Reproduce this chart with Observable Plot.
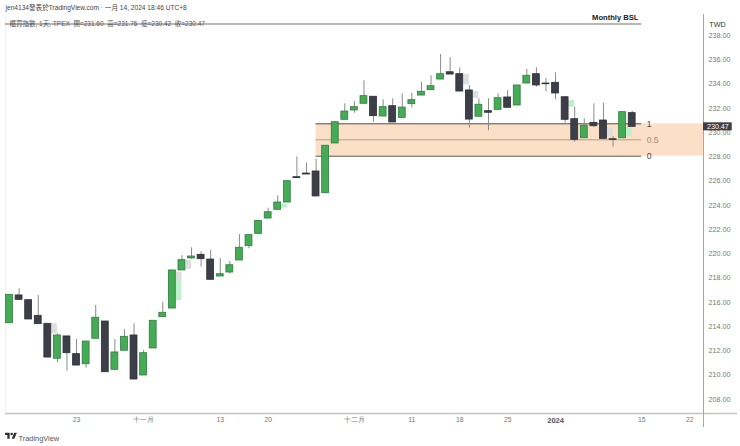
<!DOCTYPE html>
<html><head><meta charset="utf-8">
<script src="https://cdn.jsdelivr.net/npm/d3@7"></script>
<script src="https://cdn.jsdelivr.net/npm/@observablehq/plot@0.6"></script>
<style>
html,body{margin:0;padding:0;background:#fff;overflow:hidden}
#wrap{position:relative;width:740px;height:446px}
#logo{position:absolute;left:5px;top:431px;width:12px;height:10px}
</style></head><body><div id="wrap"></div>
<script>
const opens=[214.28,216.57,216.18,214.89,214.23,211.35,213.19,211.73,210.90,213.00,214.42,210.44,212.01,213.27,209.97,212.20,214.78,215.49,218.63,219.62,219.92,219.53,218.13,218.46,219.45,220.63,221.65,222.91,223.63,224.23,226.32,226.62,226.79,225.00,229.10,231.05,231.82,232.37,232.95,231.32,232.17,231.21,232.34,233.05,233.49,234.37,234.97,234.81,233.47,231.30,231.76,231.87,232.89,232.23,234.04,234.81,234.04,234.10,232.91,231.10,229.53,230.80,230.99,229.45,229.53,231.60];
const highs=[216.62,217.12,216.18,216.57,214.23,213.41,213.19,212.94,212.77,215.74,214.42,212.94,213.76,214.23,212.03,214.48,216.01,218.63,219.84,220.50,220.17,220.30,219.62,219.37,221.59,221.54,222.72,223.76,224.78,225.99,228.00,227.47,227.80,228.91,230.85,232.37,232.56,234.27,232.95,232.70,232.78,233.19,233.24,234.15,234.68,236.43,236.19,235.34,233.88,232.78,232.78,233.19,233.47,233.88,235.20,235.34,234.45,234.92,232.91,232.09,231.13,232.37,232.42,229.67,231.68,231.76];
const lows=[214.28,216.15,214.59,214.20,211.45,211.02,210.32,210.79,210.57,213.00,210.24,210.44,212.01,209.64,209.97,212.20,214.78,215.49,218.63,219.53,218.90,217.86,218.13,218.32,219.45,220.42,221.65,222.91,223.63,224.23,226.24,226.54,224.73,225.00,229.10,231.05,231.59,232.37,230.85,231.32,230.83,231.21,232.04,233.05,233.49,234.37,234.78,233.38,230.36,231.30,230.14,231.87,232.04,232.23,234.04,233.74,233.36,232.70,230.77,229.20,229.53,230.42,229.48,228.79,229.53,230.42];
const closes=[216.62,216.21,214.59,214.20,211.45,213.27,211.81,210.79,212.77,214.73,210.24,211.87,213.16,209.64,211.81,214.48,215.14,218.63,219.48,219.78,219.56,217.86,218.32,219.06,220.50,221.54,222.72,223.43,224.23,225.99,226.24,226.54,224.73,228.91,230.85,231.73,232.09,233.00,231.35,232.09,230.83,232.06,232.67,233.36,233.82,234.81,234.78,233.38,231.07,232.29,231.63,232.83,232.04,233.88,234.68,233.88,233.98,233.22,231.05,229.40,230.56,230.52,229.48,229.40,231.68,230.47];

// faint imbalance boxes beside candles: candle index, top, bottom
const grayIdx=[5,18,19,48,49,63];
const grayTop=[214.23,218.49,219.45,234.79,233.38,230.36];
const grayBot=[213.41,217.80,218.71,233.94,232.81,229.67];
const mintIdx=[18,29,59,65];
const mintTop=[217.80,224.09,232.64,230.39];
const mintBot=[216.15,223.76,232.09,229.67];

// Monthly BSL fib zone
const fibLevels=[230.72,229.40,228.05];
const fibLabels=["1","0.5","0"];
const fibColors=["#55534f","#b39f8a","#55534f"];
const zoneStart=32, zoneLineEnd=66;

const yTicks=[208,210,212,214,216,218,220,222,224,226,228,230,232,234,236,238];
const xTicks=[7,14,22,27,36,42,47,52,66,71];
const xTickLabels=["23","十一月","13","20","十二月","11","18","25","15","22"];
const yearTick=57, yearLabel="2024";
const lastClose=230.47;

const xDom=[-0.4175,72.443], yDom=[206.837,239.731];
const idx=d3.range(opens.length);
const candles=idx.map(i=>({i,o:opens[i],h:highs[i],l:lows[i],c:closes[i],up:closes[i]>=opens[i]}));
const boxes=(a,t,b)=>a.map((d,k)=>({x1:d-0.6,x2:d,y1:t[k],y2:b[k]}));
const font="'Liberation Sans',Arial,sans-serif";
const cjk="'Liberation Sans','Noto Sans CJK TC',sans-serif";

const chart=Plot.plot({
  width:740,height:446,marginLeft:5,marginRight:37,marginTop:14,marginBottom:33,
  style:{fontFamily:font,background:"#fff",overflow:"visible"},
  x:{type:"linear",domain:xDom,axis:null},
  y:{type:"linear",domain:yDom,axis:null},
  marks:[
    Plot.rect([0],{x1:zoneStart,x2:xDom[1],y1:fibLevels[0],y2:fibLevels[2],fill:"#fbdfc6"}),
    Plot.rect(boxes(grayIdx,grayTop,grayBot),{x1:"x1",x2:"x2",y1:"y1",y2:"y2",fill:"#dedede"}),
    Plot.rect(boxes(mintIdx,mintTop,mintBot),{x1:"x1",x2:"x2",y1:"y1",y2:"y2",fill:"#bdf0cb"}),
    Plot.ruleY(fibLevels,{x1:zoneStart,x2:zoneLineEnd,stroke:(d,k)=>fibColors[k],strokeWidth:1}),
    Plot.text(fibLevels,{x:zoneLineEnd,y:d=>d,text:(d,k)=>fibLabels[k],fill:(d,k)=>k===1?"#9a8e82":"#444",textAnchor:"start",dx:5,fontSize:8.5}),
    Plot.ruleX([xDom[0]],{y1:yDom[0],y2:yDom[1],stroke:"#f2f2f2"}),
    Plot.ruleY([yDom[0]],{x1:xDom[0],x2:76,stroke:"#c4c4c4",strokeWidth:1.5}),
    Plot.ruleX([xDom[1]],{y1:205.68,y2:yDom[1],stroke:"#a6a6a6",strokeWidth:1}),
    Plot.axisY({anchor:"right",ticks:yTicks,tickFormat:d3.format(".2f"),tickSize:0,tickPadding:5,fontSize:7.2,fill:"#777"}),
    Plot.axisX({ticks:xTicks,tickFormat:d=>xTickLabels[xTicks.indexOf(d)],tickSize:0,tickPadding:4,fontSize:6.8,fill:"#777"}),
    Plot.axisX({ticks:[yearTick],tickFormat:()=>yearLabel,tickSize:0,tickPadding:4,fontSize:7.5,fontWeight:"bold",fill:"#555"}),
    Plot.ruleX(candles,{x:"i",y1:"l",y2:"h",stroke:"#8a8a8a",strokeWidth:1}),
    Plot.rect(candles,{x1:d=>d.i-0.36,x2:d=>d.i+0.36,y1:"o",y2:"c",
      fill:d=>d.up?"#45ab54":"#3c3e48",stroke:d=>d.up?"#2f7d40":"#2e2f37",strokeWidth:0.8}),
    Plot.rect([lastClose],{x1:xDom[1],x2:xDom[1]+3,y1:d=>d+0.33,y2:d=>d-0.33,fill:"#3c3e48"}),
    Plot.text([lastClose],{x:xDom[1]+1.5,y:d=>d,text:d=>d.toFixed(2),fill:"#fff",fontSize:7.2}),
    Plot.ruleY([yDom[1]],{x1:xDom[0],x2:zoneLineEnd,dy:9.5,stroke:"#707070",strokeWidth:1}),
    Plot.text(["jen4134發表於TradingView.com · 一月 14, 2024 18:46 UTC+8"],{frameAnchor:"top-left",dy:-9.5,textAnchor:"start",fontSize:6.6,fill:"#444",fontFamily:cjk}),
    Plot.text(["櫃買指數, 1天, TPEX  開=231.60  高=231.76  低=230.42  收=230.47"],{frameAnchor:"top-left",dx:4,dy:6.5,textAnchor:"start",fontSize:6.5,fill:"#555",fontFamily:cjk,style:{whiteSpace:"pre"}}),
    Plot.text(["Monthly BSL"],{frameAnchor:"top-right",dx:-65,dy:0.5,textAnchor:"end",fontSize:7.6,fontWeight:"bold",fill:"#222"}),
    Plot.text(["TWD"],{frameAnchor:"top-right",dx:14,dy:7,textAnchor:"middle",fontSize:7.2,fill:"#333"}),
    Plot.text(["TradingView"],{frameAnchor:"bottom-left",dx:13,dy:27,textAnchor:"start",fontSize:7.4,fill:"#555"})
  ]
});
const wrap=document.getElementById("wrap");
wrap.appendChild(chart);
wrap.insertAdjacentHTML("beforeend",'<svg id="logo" viewBox="0 0 36 28"><path fill="#333" d="M14 22H7V11H0V4h14v18zM28 22h-8l7.5-18h8L28 22z"/><circle cx="20" cy="8" r="4" fill="#333"/></svg>');
</script></body></html>
